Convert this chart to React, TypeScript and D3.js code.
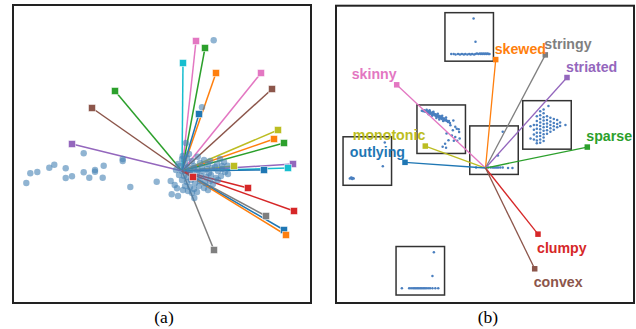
import React from "react";
import * as d3 from "d3";

// ---------- Panel (a): projected points (PC1, PC2) ----------
const pointsA: [number, number][] = [
  [-1.557, -0.12], [-1.517, -0.023], [-1.447, -0.01], [-1.327, 0.033], [-1.277, 0.063],
  [-1.163, 0.027], [-1.163, -0.07], [-1.1, -0.053], [-0.983, 0.177], [-0.983, -0.013],
  [-0.927, -0.067], [-0.87, 0.01], [-0.87, -0.007], [-0.783, 0.053], [-0.793, -0.067],
  [-0.593, 0.12], [-0.593, 0.1], [-0.517, -0.16], [-0.253, -0.107], [-0.113, -0.1],
  [-0.103, -0.233], [-0.04, -0.25], [-0.073, -0.14], [-0.05, -0.173], [0.123, -0.27],
  [0.317, 1.307], [0.2, 0.637], [0.04, 0.28],
  [0.0, 0.12], [0.03, 0.08], [-0.02, 0.05], [0.05, 0.13], [0.1, 0.1], [0.157, 0.143], [0.22, 0.11],
  [0.28, 0.1], [0.35, 0.07], [0.38, 0.12], [0.42, 0.09], [0.457, 0.053], [0.4, 0.05],
  [-0.06, 0.01], [0.0, 0.0], [0.04, 0.02], [0.08, 0.0], [0.12, 0.03], [0.16, 0.01], [0.2, 0.04],
  [0.25, 0.02], [0.3, 0.03], [0.36, 0.0], [0.4, 0.02], [0.43, -0.01], [0.46, -0.03],
  [-0.03, -0.04], [0.02, -0.05], [0.06, -0.06], [0.1, -0.04], [0.14, -0.07], [0.19, -0.05],
  [0.24, -0.06], [0.29, -0.04], [0.34, -0.07], [0.39, -0.05], [0.36, -0.09],
  [0.0, -0.09], [0.05, -0.11], [0.09, -0.09], [0.13, -0.12], [0.18, -0.1], [0.23, -0.12],
  [0.28, -0.1], [0.31, -0.13], [0.03, -0.15], [0.08, -0.16], [0.12, -0.18], [0.17, -0.15],
  [0.22, -0.17], [0.26, -0.19], [0.06, -0.2], [0.1, -0.22], [0.15, -0.21], [0.01, -0.19],
  [0.07, 0.17], [0.12, 0.05], [0.007, 0.15], [0.18, 0.08], [0.26, 0.07], [0.33, 0.04],
  [-0.04, 0.07], [0.06, 0.04], [0.15, -0.02], [0.21, 0.0], [0.27, -0.02],
];

// Loading vectors of panel (a) and their colours
const loadingsA: [number, number][] = [
  [0.14, 1.30], [0.23, 1.23], [0.01, 1.08], [0.34, 0.98], [0.79, 0.98], [0.9, 0.82],
  [-0.67, 0.8], [-0.9, 0.63], [0.17, 0.57], [0.96, 0.41], [0.92, 0.32], [1.02, 0.28],
  [-1.1, 0.27], [0.52, 0.05], [1.11, 0.07], [1.06, 0.03], [0.82, 0.01], [0.66, -0.17],
  [1.12, -0.4], [0.84, -0.45], [1.02, -0.59], [1.04, -0.64], [0.32, -0.79], [0.11, -0.06],
];
const colorsA: string[] = [
  "#e377c2", "#2ca02c", "#17becf", "#ff7f0e", "#e377c2", "#8c564b",
  "#2ca02c", "#8c564b", "#1f77b4", "#bcbd22", "#ff7f0e", "#2ca02c",
  "#9467bd", "#bcbd22", "#9467bd", "#17becf", "#1f77b4", "#d62728",
  "#d62728", "#7f7f7f", "#1f77b4", "#ff7f0e", "#7f7f7f", "#d62728",
];

// ---------- Panel (b): named scagnostic loadings ----------
const namesB: string[] = ["skewed", "stringy", "striated", "skinny", "sparse", "monotonic", "outlying", "clumpy", "convex"];
const loadingsB: [number, number][] = [
  [0.102, 1.087], [0.598, 1.134], [0.815, 0.907], [-0.888, 0.834], [1.018, 0.21],
  [-0.602, 0.22], [-0.805, 0.057], [0.525, -0.663], [0.492, -1.01],
];
const colorsB: string[] = ["#ff7f0e", "#7f7f7f", "#9467bd", "#e377c2", "#2ca02c", "#bcbd22", "#1f77b4", "#d62728", "#8c564b"];

// Inset thumbnails: centre positions in panel-(b) coordinates
const insetCenters: [number, number][] = [
  [-0.163, 1.314], [-0.443, 0.389], [0.085, 0.179], [0.615, 0.432], [-1.182, 0.07], [-0.652, -1.03],
];

// Inset contents in local unit coordinates
const insetTop: [number, number][] = [
  [0.59, 0.12], [0.63, 0.6],
  [0.13, 0.85], [0.18, 0.85], [0.22, 0.86], [0.27, 0.85], [0.31, 0.86], [0.35, 0.85], [0.39, 0.86],
  [0.42, 0.85], [0.46, 0.86], [0.5, 0.85], [0.53, 0.86], [0.56, 0.85], [0.6, 0.86], [0.63, 0.85],
  [0.66, 0.84], [0.69, 0.85], [0.72, 0.84], [0.74, 0.85], [0.76, 0.84], [0.78, 0.85], [0.8, 0.84],
  [0.82, 0.85], [0.84, 0.84], [0.86, 0.85], [0.88, 0.84], [0.9, 0.85], [0.92, 0.85],
];
const insetSkinny: [number, number][] = [
  [0.1, 0.12], [0.13, 0.13], [0.15, 0.11], [0.17, 0.14], [0.19, 0.12], [0.21, 0.15], [0.23, 0.13],
  [0.25, 0.16], [0.27, 0.14], [0.28, 0.18], [0.3, 0.16], [0.32, 0.19], [0.33, 0.15], [0.35, 0.18],
  [0.36, 0.21], [0.38, 0.19], [0.39, 0.23], [0.41, 0.2], [0.42, 0.24], [0.44, 0.22], [0.45, 0.26],
  [0.47, 0.23], [0.48, 0.27], [0.5, 0.25], [0.51, 0.29], [0.53, 0.27], [0.55, 0.3], [0.56, 0.28],
  [0.58, 0.32], [0.6, 0.3], [0.62, 0.33], [0.64, 0.35], [0.66, 0.33], [0.68, 0.37], [0.24, 0.19],
  [0.31, 0.22], [0.4, 0.27], [0.46, 0.3], [0.54, 0.33], [0.2, 0.1], [0.26, 0.11], [0.34, 0.14],
  [0.43, 0.18], [0.52, 0.22], [0.6, 0.26],
  [0.75, 0.32], [0.82, 0.49], [0.61, 0.59], [0.72, 0.63], [0.79, 0.66], [0.88, 0.69], [0.65, 0.73],
  [0.58, 0.8], [0.53, 0.86], [0.6, 0.88], [0.87, 0.56], [0.74, 0.52], [0.69, 0.42], [0.79, 0.45],
  [0.86, 0.5], [0.76, 0.74], [0.83, 0.74],
];
const insetCenter: [number, number][] = [
  [0.68, 0.12], [0.58, 0.61],
  [0.13, 0.86], [0.38, 0.86], [0.43, 0.86], [0.47, 0.86], [0.5, 0.86], [0.53, 0.86], [0.56, 0.86],
  [0.59, 0.86], [0.63, 0.86], [0.68, 0.86], [0.79, 0.87], [0.88, 0.87],
];
const insetStriated: [number, number][] = [
  [0.16, 0.53], [0.16, 0.78],
  [0.23, 0.5], [0.23, 0.6], [0.23, 0.7], [0.23, 0.8],
  [0.29, 0.32], [0.29, 0.42], [0.29, 0.5], [0.29, 0.58], [0.29, 0.66], [0.29, 0.74], [0.29, 0.82], [0.29, 0.88],
  [0.36, 0.22], [0.36, 0.3], [0.36, 0.38], [0.36, 0.45], [0.36, 0.52], [0.36, 0.59], [0.36, 0.66], [0.36, 0.73], [0.36, 0.8], [0.36, 0.87],
  [0.43, 0.18], [0.43, 0.26], [0.43, 0.34], [0.43, 0.41], [0.43, 0.48], [0.43, 0.55], [0.43, 0.62], [0.43, 0.69], [0.43, 0.76], [0.43, 0.83],
  [0.53, 0.11], [0.5, 0.32], [0.5, 0.4], [0.5, 0.47], [0.5, 0.54], [0.5, 0.61], [0.5, 0.68],
  [0.57, 0.35], [0.57, 0.43], [0.57, 0.5], [0.57, 0.57], [0.57, 0.64],
  [0.64, 0.38], [0.64, 0.46], [0.64, 0.53], [0.64, 0.6],
  [0.71, 0.4], [0.71, 0.48], [0.71, 0.55],
  [0.77, 0.45], [0.77, 0.52], [0.88, 0.5],
];
const insetOutlying: [number, number][] = [
  [0.86, 0.12], [0.82, 0.61],
  [0.14, 0.86], [0.16, 0.85], [0.18, 0.86], [0.2, 0.85], [0.22, 0.86], [0.17, 0.84], [0.19, 0.87],
];
const insetBottom: [number, number][] = [
  [0.78, 0.12], [0.75, 0.61],
  [0.12, 0.86], [0.27, 0.86], [0.31, 0.86], [0.35, 0.86], [0.38, 0.86], [0.41, 0.86], [0.44, 0.86],
  [0.47, 0.86], [0.5, 0.86], [0.53, 0.86], [0.56, 0.86], [0.59, 0.86], [0.62, 0.86], [0.66, 0.86],
  [0.7, 0.86], [0.75, 0.86], [0.81, 0.86], [0.87, 0.86],
];
const insetData: [number, number][][] = [insetTop, insetSkinny, insetCenter, insetStriated, insetOutlying, insetBottom];

const panelLabels: string[] = ["(a)", "(b)"];

export default function App() {
  const W = 636, H = 329;
  // Panel (a)
  const xA = d3.scaleLinear().domain([-1.69, 1.29]).range([13, 311]);
  const yA = d3.scaleLinear().domain([-1.32, 1.66]).range([303, 5]);
  // Panel (b)
  const xB = d3.scaleLinear().domain([-1.495, 1.485]).range([336, 634]);
  const yB = d3.scaleLinear().domain([-1.353, 1.627]).range([303, 5.7]);
  const insetSize = xB(0.485) - xB(0);
  const loc = d3.scaleLinear().domain([0, 1]).range([0, insetSize]);

  const sq = 7;
  const sqB = 5.5;
  const labelFont = "'Liberation Sans', Arial, Helvetica, sans-serif";
  const serif = "'Liberation Serif', 'Times New Roman', serif";

  return (
    <svg width={W} height={H} style={{ position: "absolute", left: 0, top: 0, background: "#fff" }}>
      {/* Panel (a) */}
      <rect x={13} y={5} width={298} height={298} fill="#fff" stroke="#222" strokeWidth={2} />
      <g>
        {loadingsA.map((d, i) => (
          <line key={"la" + i} x1={xA(0)} y1={yA(0)} x2={xA(d[0])} y2={yA(d[1])}
            stroke={colorsA[i]} strokeWidth={1.5} />
        ))}
      </g>
      <g>
        {pointsA.map((d, i) => (
          <circle key={"pa" + i} cx={xA(d[0])} cy={yA(d[1])} r={3.2} fill="steelblue" fillOpacity={0.6} />
        ))}
      </g>
      <g>
        {loadingsA.map((d, i) => (
          <rect key={"ma" + i} x={xA(d[0]) - sq / 2} y={yA(d[1]) - sq / 2} width={sq} height={sq}
            fill={colorsA[i]} stroke="#fff" strokeOpacity={0.5} strokeWidth={1} />
        ))}
      </g>

      {/* Panel (b) */}
      <rect x={336} y={5.7} width={298} height={297.3} fill="#fff" stroke="#222" strokeWidth={2} />
      <g>
        {insetCenters.map((c, i) => {
          const x0 = xB(c[0]) - insetSize / 2;
          const y0 = yB(c[1]) - insetSize / 2;
          return (
            <g key={"in" + i} transform={`translate(${x0},${y0})`}>
              <rect x={0} y={0} width={insetSize} height={insetSize} fill="#fff" stroke="#333" strokeWidth={1.5} />
              {insetData[i].map((p, j) => (
                <circle key={j} cx={loc(p[0])} cy={loc(p[1])} r={1.25} fill="#4a7fbf" />
              ))}
            </g>
          );
        })}
      </g>
      <g>
        {loadingsB.map((d, i) => (
          <line key={"lb" + i} x1={xB(0)} y1={yB(0)} x2={xB(d[0])} y2={yB(d[1])}
            stroke={colorsB[i]} strokeWidth={1.3} />
        ))}
      </g>
      <g>
        {loadingsB.map((d, i) => (
          <rect key={"mb" + i} x={xB(d[0]) - sqB / 2} y={yB(d[1]) - sqB / 2} width={sqB} height={sqB}
            fill={colorsB[i]} />
        ))}
      </g>
      <g>
        {loadingsB.map((d, i) => {
          const left = d[0] < 0;
          const below = d[1] < 0;
          return (
            <text key={"tb" + i} x={xB(d[0]) + (left ? 0 : -1)} y={yB(d[1]) + (below ? 18.5 : -5.8)}
              textAnchor={left ? "end" : "start"} fill={colorsB[i]} fontFamily={labelFont}
              fontWeight="bold" fontSize={14.2}>
              {namesB[i]}
            </text>
          );
        })}
      </g>

      {/* Sub-figure captions */}
      <text x={164} y={323} textAnchor="middle" fontFamily={serif} fontSize={17.5}>{panelLabels[0]}</text>
      <text x={488} y={323} textAnchor="middle" fontFamily={serif} fontSize={17.5}>{panelLabels[1]}</text>
    </svg>
  );
}
